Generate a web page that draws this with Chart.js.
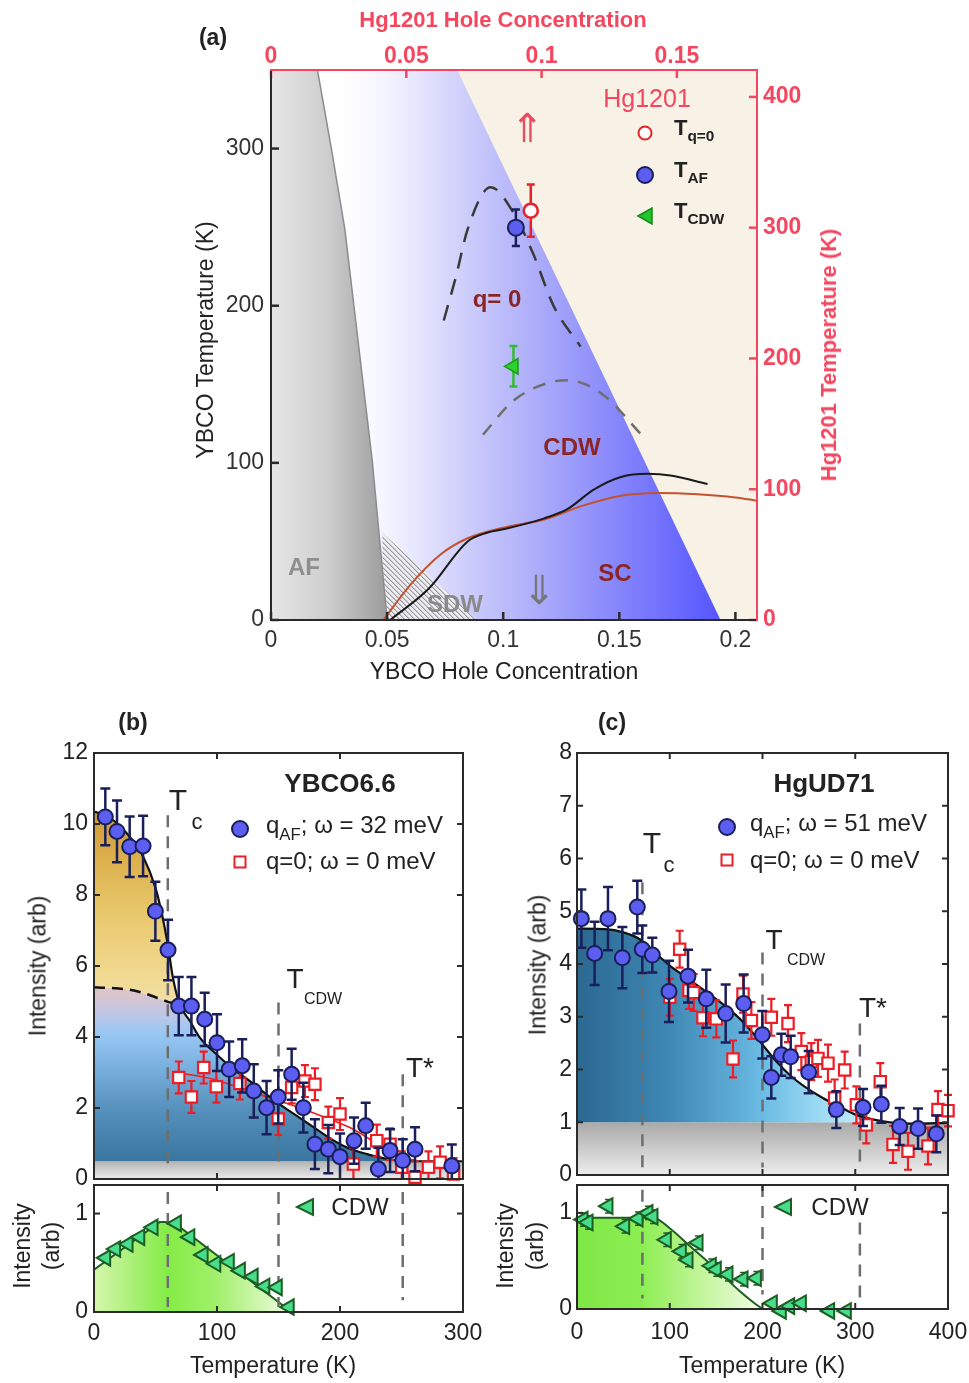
<!DOCTYPE html>
<html>
<head>
<meta charset="utf-8">
<title>Phase diagram and scattering intensities</title>
<script src="https://cdn.jsdelivr.net/npm/chart.js@4.4.1/dist/chart.umd.min.js"></script>
<style>
 html,body{margin:0;padding:0;background:#ffffff;}
 #page{position:relative;width:969px;height:1383px;overflow:hidden;font-family:"Liberation Sans",Arial,Helvetica,sans-serif;color:#222;}
 #page canvas{position:absolute;left:0;top:0;}
 .t{position:absolute;white-space:nowrap;line-height:1;transform:translate(-50%,-50%);}
 .l{position:absolute;white-space:nowrap;line-height:1;transform:translate(0,-50%);}
 .r{transform:translate(-50%,-50%) rotate(-90deg);}
 .b{font-weight:bold;}
 sub{font-size:0.7em;vertical-align:-0.4em;line-height:0;}
 .mk{position:absolute;transform:translate(-50%,-50%);}
</style>
</head>
<body>
<div id="page">
 <canvas id="cA" width="969" height="1383"></canvas>
 <canvas id="cB1" width="969" height="1383"></canvas>
 <canvas id="cB2" width="969" height="1383"></canvas>
 <canvas id="cC1" width="969" height="1383"></canvas>
 <canvas id="cC2" width="969" height="1383"></canvas>

 <!-- panel (a) text -->
 <div class="t b" style="left:213px;top:37px;font-size:23px;">(a)</div>
 <div class="t b" style="left:503px;top:20px;font-size:22px;color:#f4475f;">Hg1201 Hole Concentration</div>
 <div class="t" style="left:504px;top:671px;font-size:23px;">YBCO Hole Concentration</div>
 <div class="t r" style="left:205px;top:340px;font-size:23px;">YBCO Temperature (K)</div>
 <div class="t r b" style="left:829px;top:355px;font-size:22px;color:#f4475f;">Hg1201 Temperature (K)</div>
 <div class="t" style="left:647px;top:98px;font-size:25px;color:#f4475f;">Hg1201</div>
 <div class="mk" style="left:645px;top:133px;width:11px;height:11px;border:2.5px solid #e8202a;border-radius:50%;background:#fff;"></div>
 <div class="mk" style="left:645px;top:175px;width:14px;height:14px;border:2px solid #1a1f5a;border-radius:50%;background:#5b5ef0;"></div>
 <svg class="mk" style="left:645px;top:216px;" width="20" height="20" viewBox="0 0 20 20"><polygon points="3,10 17,2 17,18" fill="#22c52a" stroke="#138a1a" stroke-width="1.5"/></svg>
 <div class="l b" style="left:674px;top:128px;font-size:22px;">T<sub>q=0</sub></div>
 <div class="l b" style="left:674px;top:170px;font-size:22px;">T<sub>AF</sub></div>
 <div class="l b" style="left:674px;top:211px;font-size:22px;">T<sub>CDW</sub></div>
 <div class="t b" style="left:497px;top:299px;font-size:24px;color:#8b2525;">q= 0</div>
 <div class="t b" style="left:572px;top:447px;font-size:24px;color:#8b2525;">CDW</div>
 <div class="t b" style="left:615px;top:573px;font-size:24px;color:#8b2525;">SC</div>
 <div class="t b" style="left:304px;top:567px;font-size:24px;color:#8f8f8f;">AF</div>
 <div class="t b" style="left:455px;top:604px;font-size:24px;color:#8a8a8a;">SDW</div>
 <div class="t" style="left:527px;top:128px;font-size:40px;color:#f04a5e;font-family:'DejaVu Sans';">&#8657;</div>
 <div class="t" style="left:539px;top:590px;font-size:40px;color:#777;font-family:'DejaVu Sans';">&#8659;</div>

 <!-- panel (b) text -->
 <div class="t b" style="left:133px;top:722px;font-size:23px;">(b)</div>
 <div class="t b" style="left:340px;top:783px;font-size:26px;">YBCO6.6</div>
 <div class="mk" style="left:240px;top:829px;width:14px;height:14px;border:2px solid #1a1f5a;border-radius:50%;background:#5b5ef0;"></div>
 <div class="l" style="left:266px;top:825px;font-size:24px;">q<sub>AF</sub>; &omega; = 32 meV</div>
 <div class="mk" style="left:240px;top:862px;width:9px;height:9px;border:2.5px solid #e8202a;background:#fff;"></div>
 <div class="l" style="left:266px;top:861px;font-size:24px;">q=0; &omega; = 0 meV</div>
 <div class="t" style="left:178px;top:800px;font-size:30px;">T</div>
 <div class="t" style="left:197px;top:822px;font-size:22px;">c</div>
 <div class="t" style="left:295px;top:979px;font-size:28px;">T</div>
 <div class="t" style="left:323px;top:999px;font-size:16px;">CDW</div>
 <div class="t" style="left:420px;top:1068px;font-size:28px;">T*</div>
 <div class="t r" style="left:38px;top:966px;font-size:23px;">Intensity (arb)</div>
 <div class="t r" style="left:22px;top:1246px;font-size:23px;">Intensity</div>
 <div class="t r" style="left:51px;top:1246px;font-size:23px;">(arb)</div>
 <svg class="mk" style="left:305px;top:1207px;" width="22" height="22" viewBox="0 0 22 22"><polygon points="3,11 19,3 19,19" fill="#47dd8c" stroke="#1d5e22" stroke-width="2"/></svg>
 <div class="t" style="left:360px;top:1207px;font-size:24px;">CDW</div>
 <div class="t" style="left:273px;top:1365px;font-size:23px;">Temperature (K)</div>

 <!-- panel (c) text -->
 <div class="t b" style="left:612px;top:722px;font-size:23px;">(c)</div>
 <div class="t b" style="left:824px;top:783px;font-size:26px;">HgUD71</div>
 <div class="mk" style="left:727px;top:827px;width:14px;height:14px;border:2px solid #1a1f5a;border-radius:50%;background:#5b5ef0;"></div>
 <div class="l" style="left:750px;top:823px;font-size:24px;">q<sub>AF</sub>; &omega; = 51 meV</div>
 <div class="mk" style="left:727px;top:860px;width:9px;height:9px;border:2.5px solid #e8202a;background:#fff;"></div>
 <div class="l" style="left:750px;top:860px;font-size:24px;">q=0; &omega; = 0 meV</div>
 <div class="t" style="left:652px;top:843px;font-size:30px;">T</div>
 <div class="t" style="left:669px;top:865px;font-size:22px;">c</div>
 <div class="t" style="left:774px;top:940px;font-size:28px;">T</div>
 <div class="t" style="left:806px;top:960px;font-size:16px;">CDW</div>
 <div class="t" style="left:873px;top:1008px;font-size:28px;">T*</div>
 <div class="t r" style="left:538px;top:965px;font-size:23px;">Intensity (arb)</div>
 <div class="t r" style="left:505px;top:1246px;font-size:23px;">Intensity</div>
 <div class="t r" style="left:535px;top:1246px;font-size:23px;">(arb)</div>
 <svg class="mk" style="left:783px;top:1207px;" width="22" height="22" viewBox="0 0 22 22"><polygon points="3,11 19,3 19,19" fill="#47dd8c" stroke="#1d5e22" stroke-width="2"/></svg>
 <div class="t" style="left:840px;top:1207px;font-size:24px;">CDW</div>
 <div class="t" style="left:762px;top:1365px;font-size:23px;">Temperature (K)</div>
</div>

<script>
// ================= DATA =================
// ---- Panel (a): phase diagram ----
const aYbcoPTicks = [0, 0.05, 0.1, 0.15, 0.2];
const aHgPTicks = [0, 0.05, 0.1, 0.15];
const aYbcoTTicks = [0, 100, 200, 300];
const aHgTTicks = [0, 100, 200, 300, 400];
const scEdgeP = [0, 0.0802, 0.1936];
const scEdgeT = [350, 350, 0];
const afEdgeP = [0, 0.02, 0.026, 0.0318, 0.0373, 0.0437, 0.05];
const afEdgeT = [350, 350, 300, 248.7, 180, 100, 0];
const sdwEdgeP = [0.0479, 0.0888];
const sdwEdgeT = [55.6, 0];
const q0DomeP = [0.0744, 0.0797, 0.0847, 0.0946, 0.1045, 0.1127, 0.1218, 0.1333];
const q0DomeT = [190.6, 218.8, 248.7, 275.4, 259, 233.8, 199.6, 174];
const cdwDomeP = [0.0913, 0.1045, 0.1193, 0.1276, 0.1424, 0.1606];
const cdwDomeT = [118, 139.7, 150.9, 152.6, 144, 116.2];
const ybcoTcP = [0.0513, 0.068, 0.0847, 0.093, 0.1, 0.1177, 0.1276, 0.139, 0.1507, 0.162, 0.172, 0.188];
const ybcoTcT = [0, 20, 50, 55.5, 57.7, 64.7, 70.5, 83, 91, 93, 92, 86.5];
const hgTcP = [0.0484, 0.06, 0.073, 0.0847, 0.1, 0.1177, 0.134, 0.1507, 0.167, 0.1837, 0.2, 0.2093];
const hgTcT = [0, 22.4, 41.7, 52, 58.8, 64, 72.6, 79, 80.8, 80, 78, 75.9];
const hgQ0P = [0.096];  const hgQ0T = [313];  const hgQ0Err = [20];
const hgAfP = [0.0905]; const hgAfT = [300];  const hgAfErr = [14];
const hgCdwP = [0.0896]; const hgCdwT = [194]; const hgCdwErr = [15.5];

// ---- Panel (b): YBCO6.6 ----
const bTTicks = [0, 100, 200, 300];
const bITicks = [0, 2, 4, 6, 8, 10, 12];
const bLowITicks = [0, 1];
const bAfT = [9.2, 18.7, 29, 39.9, 49.9, 60.2, 68.9, 79.2, 90, 100, 109.9, 120.5, 129.9, 140.3, 149.8, 160.7, 170.2, 179.6, 190.5, 200, 211.4, 220.9, 231.2, 240.7, 251, 261, 290.9];
const bAfI = [10.2, 9.79, 9.36, 9.38, 7.54, 6.45, 4.87, 4.87, 4.5, 3.84, 3.09, 3.19, 2.48, 2.01, 2.31, 2.95, 2.01, 0.98, 0.84, 0.63, 1.08, 1.5, 0.28, 0.8, 0.52, 0.84, 0.37];
const bAfErr = [0.8, 0.87, 0.85, 0.85, 0.83, 0.85, 0.82, 0.82, 0.75, 0.8, 0.78, 0.75, 0.75, 0.75, 0.75, 0.72, 0.7, 0.7, 0.68, 0.65, 0.65, 0.65, 0.6, 0.6, 0.6, 0.62, 0.6];
const bQ0T = [68.9, 79.2, 89.2, 99.5, 118.6, 149.8, 160.7, 171.5, 179.6, 190.5, 200, 210.9, 229.9, 240.7, 250.2, 261, 271.9, 281.4, 292.3];
const bQ0I = [2.86, 2.31, 3.14, 2.6, 2.69, 1.69, 2.58, 2.76, 2.67, 1.59, 1.83, 0.42, 1.08, 0.98, 0.33, 0.05, 0.33, 0.47, 0.14];
const bQ0Err = [0.45, 0.45, 0.45, 0.45, 0.45, 0.45, 0.45, 0.45, 0.45, 0.45, 0.45, 0.45, 0.45, 0.45, 0.45, 0.45, 0.45, 0.45, 0.45];
const bFitT = [0, 9, 18.7, 29, 40, 50, 55, 60, 64, 69.5, 78, 86, 100, 113, 127, 140, 153, 167, 181, 195, 208, 222, 236, 249, 262, 280, 300];
const bFitI = [10.35, 10.25, 10.02, 9.64, 9.08, 8.2, 7.5, 6.6, 5.7, 4.93, 4.45, 3.98, 3.5, 3.1, 2.75, 2.39, 2.05, 1.73, 1.4, 1.08, 0.85, 0.7, 0.58, 0.52, 0.5, 0.5, 0.5];
const bDashT = [0, 9, 18.7, 29, 40, 50, 55, 60, 64, 69.5];
const bDashI = [5.4, 5.39, 5.37, 5.33, 5.24, 5.12, 5.06, 4.99, 4.96, 4.93];
const bQ0FitT = [67, 97, 129, 167, 195, 208, 222, 236, 249, 262];
const bQ0FitI = [3.0, 2.81, 2.44, 2.01, 1.64, 1.45, 1.17, 0.85, 0.62, 0.52];
const bBaseT = [0, 300];
const bBaseI = [0.5, 0.5];
const bMarkT = [60, 150, 251];
const bMarkTop = [10.25, 4.97, 2.95];
const bMarkBot = [0.33, 0.33, 0.33];
const bLowMarkTop = [1.22, 1.22, 1.22];
const bLowMarkBot = [0.05, 0.05, 0.12];
const bCdwT = [9.5, 17.6, 27.7, 37.2, 48, 67, 77.9, 88.7, 99, 110, 119, 129.4, 138.9, 149, 158.7];
const bCdwI = [0.55, 0.64, 0.69, 0.76, 0.86, 0.9, 0.76, 0.58, 0.49, 0.51, 0.42, 0.36, 0.26, 0.25, 0.05];
const bCdwFitT = [0, 53.5, 64.3, 160.7];
const bCdwFitI = [0.43, 0.915, 0.915, 0];

// ---- Panel (c): HgUD71 ----
const cTTicks = [0, 100, 200, 300, 400];
const cITicks = [0, 1, 2, 3, 4, 5, 6, 7, 8];
const cLowITicks = [0, 1];
const cAfT = [4.7, 19, 33.4, 48.9, 65, 70.4, 81.2, 99.2, 119.7, 139.4, 160.3, 179.7, 199.8, 209.5, 220.3, 230.4, 249.8, 279.6, 308.4, 328.1, 347.9, 367.7, 387.4];
const cAfI = [4.86, 4.2, 4.86, 4.12, 5.08, 4.28, 4.17, 3.48, 3.77, 3.34, 3.06, 3.25, 2.66, 1.85, 2.28, 2.24, 1.95, 1.24, 1.28, 1.34, 0.92, 0.88, 0.78];
const cAfErr = [0.55, 0.6, 0.6, 0.58, 0.5, 0.45, 0.33, 0.58, 0.5, 0.55, 0.55, 0.55, 0.45, 0.4, 0.4, 0.4, 0.4, 0.35, 0.35, 0.35, 0.35, 0.38, 0.35];
const cQ0T = [100, 110.7, 120.7, 125.8, 135.8, 150.2, 168.2, 179, 188, 209.5, 227.5, 241.9, 252.6, 259.8, 270.6, 277.8, 288.6, 301.2, 311.9, 327, 340.7, 356.9, 378.4, 389.2, 400];
const cQ0I = [3.37, 4.28, 3.5, 3.46, 2.98, 2.96, 2.2, 3.43, 2.93, 2.99, 2.87, 2.34, 2.15, 2.21, 2.12, 1.46, 1.99, 1.33, 0.95, 1.77, 0.58, 0.45, 0.55, 1.24, 1.22];
const cQ0Err = [0.35, 0.35, 0.35, 0.35, 0.35, 0.35, 0.35, 0.35, 0.35, 0.35, 0.35, 0.35, 0.35, 0.35, 0.35, 0.35, 0.35, 0.35, 0.35, 0.35, 0.35, 0.35, 0.35, 0.35, 0.3];
const cFitT = [0, 30, 50, 67.6, 85, 100, 120, 139.4, 160, 179, 200, 215, 229, 245, 265, 285, 301, 320, 337, 366, 400];
const cFitI = [4.67, 4.66, 4.6, 4.47, 4.2, 3.97, 3.72, 3.47, 3.2, 2.9, 2.47, 2.15, 1.9, 1.68, 1.46, 1.28, 1.14, 1.05, 1.0, 0.97, 0.99];
const cBaseT = [0, 400];
const cBaseI = [1, 1];
const cMarkT = [70.5, 200, 305];
const cMarkTop = [5.55, 4.22, 2.87];
const cMarkBot = [0.14, 0.14, 0.14];
const cLowMarkTop = [1.24, 1.29, 0.9];
const cLowMarkBot = [0.11, 0.15, 0.11];
const cCdwT = [6.5, 11.9, 33.4, 51.4, 65.8, 76.5, 81.9, 96.3, 112.5, 119.7, 130.5, 144.8, 150.2, 162.8, 179, 193.4, 210.6, 220.3, 229.3, 241.9, 272.4, 290.4];
const cCdwI = [0.93, 0.9, 1.07, 0.86, 0.94, 1.0, 0.96, 0.72, 0.6, 0.51, 0.69, 0.45, 0.41, 0.36, 0.31, 0.32, 0.06, -0.02, 0.03, 0.06, -0.02, -0.02];
const cCdwErr = [0.07, 0.07, 0.07, 0.07, 0.07, 0.07, 0.07, 0.07, 0.07, 0.07, 0.07, 0.07, 0.07, 0.07, 0.07, 0.07, 0.04, 0.04, 0.04, 0.04, 0.04, 0.04];
const cCdwFitT = [0, 40, 82, 100, 121, 140, 157, 175, 190, 200];
const cCdwFitI = [0.95, 0.95, 0.95, 0.84, 0.66, 0.5, 0.35, 0.19, 0.07, 0.0];

// ================= HELPERS =================
const RED = '#f4475f';
Chart.defaults.font.family = '"Liberation Sans", Arial, Helvetica, sans-serif';
Chart.defaults.animation = false;
Chart.defaults.responsive = false;
Chart.defaults.plugins.legend.display = false;
Chart.defaults.plugins.tooltip.enabled = false;
Chart.defaults.events = [];

function pts(xs, ys) { return xs.map((x, i) => ({x: x, y: ys[i]})); }

function axis(pos, min, max, tickVals, o) {
  o = o || {};
  const vertical = (pos === 'left' || pos === 'right');
  return {
    type: 'linear', position: pos, min: min, max: max,
    grid: {display: false, drawTicks: false, tickLength: 0}, border: {display: false},
    afterBuildTicks: s => { s.ticks = tickVals.map(v => ({value: v})); },
    afterFit: s => {
      if (vertical) { s.width = o.size; s.paddingTop = 0; s.paddingBottom = 0; }
      else { s.height = o.size; s.paddingLeft = 0; s.paddingRight = 0; }
    },
    ticks: {display: o.labels !== false, padding: o.pad || 0, color: o.color || '#222',
      font: {size: o.fs || 23, weight: o.bold ? 'bold' : 'normal'},
      callback: v => String(v), maxRotation: 0, minRotation: 0, autoSkip: false}
  };
}

function line(xs, ys, o) {
  return Object.assign({data: pts(xs, ys), pointRadius: 0, borderWidth: 2, fill: false, tension: 0, borderColor: '#222'}, o);
}
function marks(xs, ys, o) {
  return Object.assign({data: pts(xs, ys), showLine: false, pointRadius: 7.5, borderWidth: 2, clip: false}, o);
}

function hGrad(axisId, stops) {
  return c => {
    const ch = c.chart; if (!ch.chartArea) return 'rgba(0,0,0,0)';
    const sc = ch.scales[axisId];
    const p0 = sc.getPixelForValue(stops[0][0]), p1 = sc.getPixelForValue(stops[stops.length - 1][0]);
    const g = ch.ctx.createLinearGradient(p0, 0, p1, 0);
    stops.forEach(s => g.addColorStop(Math.min(1, Math.max(0, (sc.getPixelForValue(s[0]) - p0) / (p1 - p0))), s[1]));
    return g;
  };
}
function vGrad(axisId, stops) {
  return c => {
    const ch = c.chart; if (!ch.chartArea) return 'rgba(0,0,0,0)';
    const sc = ch.scales[axisId];
    const p0 = sc.getPixelForValue(stops[0][0]), p1 = sc.getPixelForValue(stops[stops.length - 1][0]);
    const g = ch.ctx.createLinearGradient(0, p0, 0, p1);
    stops.forEach(s => g.addColorStop(Math.min(1, Math.max(0, (sc.getPixelForValue(s[0]) - p0) / (p1 - p0))), s[1]));
    return g;
  };
}

function hatchPattern() {
  const c = document.createElement('canvas'); c.width = 5; c.height = 5;
  const x = c.getContext('2d');
  x.fillStyle = '#ececf2'; x.fillRect(0, 0, 5, 5);
  for (let i = 0; i < 5; i++) {
    x.fillStyle = '#9a9a9e'; x.fillRect(i, i, 1, 1);
    x.fillStyle = '#c8c8cc'; x.fillRect((i + 1) % 5, i, 1, 1);
  }
  return x.createPattern(c, 'repeat');
}

// frame + inward ticks
const framePlugin = {
  id: 'frame',
  beforeDatasetsDraw(chart, args, o) {
    if (!o.bg) return;
    const a = chart.chartArea, ctx = chart.ctx;
    ctx.save(); ctx.fillStyle = o.bg; ctx.fillRect(a.left, a.top, a.right - a.left, a.bottom - a.top); ctx.restore();
  },
  afterDatasetsDraw(chart, args, o) {
    const ctx = chart.ctx, a = chart.chartArea;
    ctx.save();
    ctx.lineCap = 'butt';
    (o.ticks || []).forEach(t => {
      const sc = chart.scales[t.scale];
      ctx.strokeStyle = t.color; ctx.lineWidth = t.width;
      sc.ticks.forEach(tk => {
        const p = sc.getPixelForValue(tk.value);
        ctx.beginPath();
        if (t.side === 'bottom') { ctx.moveTo(p, a.bottom); ctx.lineTo(p, a.bottom - t.len); }
        else if (t.side === 'top') { ctx.moveTo(p, a.top); ctx.lineTo(p, a.top + t.len); }
        else if (t.side === 'left') { ctx.moveTo(a.left, p); ctx.lineTo(a.left + t.len, p); }
        else { ctx.moveTo(a.right, p); ctx.lineTo(a.right - t.len, p); }
        ctx.stroke();
      });
    });
    ctx.lineCap = 'square';
    (o.sides || []).forEach(s => {
      ctx.strokeStyle = s.color; ctx.lineWidth = s.width;
      ctx.beginPath();
      if (s.side === 'left') { ctx.moveTo(a.left, a.top); ctx.lineTo(a.left, a.bottom); }
      else if (s.side === 'right') { ctx.moveTo(a.right, a.top); ctx.lineTo(a.right, a.bottom); }
      else if (s.side === 'top') { ctx.moveTo(a.left, a.top); ctx.lineTo(a.right, a.top); }
      else { ctx.moveTo(a.left, a.bottom); ctx.lineTo(a.right, a.bottom); }
      ctx.stroke();
    });
    ctx.restore();
  }
};

// vertical error bars, drawn just under their markers
const errPlugin = {
  id: 'errbars',
  beforeDatasetDraw(chart, args) {
    const ds = chart.data.datasets[args.index];
    if (!ds.errY) return;
    const meta = args.meta;
    const xs = chart.scales[meta.xAxisID], ys = chart.scales[meta.yAxisID];
    const ctx = chart.ctx, a = chart.chartArea;
    ctx.save();
    ctx.beginPath(); ctx.rect(a.left - 20, a.top, a.right - a.left + 40, a.bottom - a.top); ctx.clip();
    ctx.strokeStyle = ds.errColor; ctx.lineWidth = ds.errWidth || 2;
    const c = ds.capW || 4;
    ds.data.forEach((d, i) => {
      const px = xs.getPixelForValue(d.x);
      const y1 = ys.getPixelForValue(d.y + ds.errY[i]), y2 = ys.getPixelForValue(d.y - ds.errY[i]);
      ctx.beginPath();
      ctx.moveTo(px, y1); ctx.lineTo(px, y2);
      ctx.moveTo(px - c, y1); ctx.lineTo(px + c, y1);
      ctx.moveTo(px - c, y2); ctx.lineTo(px + c, y2);
      ctx.stroke();
    });
    ctx.restore();
  }
};
Chart.register(framePlugin, errPlugin);

const DARK = '#2a2a2a';
const boxFrame = (xId, yId) => ({
  sides: ['left', 'right', 'top', 'bottom'].map(s => ({side: s, color: DARK, width: 2})),
  ticks: [
    {scale: xId, side: 'bottom', len: 6, color: DARK, width: 2},
    {scale: xId, side: 'top', len: 6, color: DARK, width: 2},
    {scale: yId, side: 'left', len: 6, color: DARK, width: 2},
    {scale: yId, side: 'right', len: 6, color: DARK, width: 2}
  ]
});
const blueMarks = (xs, ys, es) => marks(xs, ys, {backgroundColor: '#5b5ef0', borderColor: '#1a1f5a', pointRadius: 7.5, errY: es, errColor: '#1a1f5a', errWidth: 2.5, capW: 5, order: 1});
const redMarks = (xs, ys, es) => marks(xs, ys, {pointStyle: 'rect', backgroundColor: '#ffffff', borderColor: '#ee1c24', pointRadius: 8, borderWidth: 2.2, errY: es, errColor: '#ee1c24', errWidth: 2.2, capW: 4, order: 2});
const triMarks = (xs, ys, es) => marks(xs, ys, {pointStyle: 'triangle', rotation: 270, backgroundColor: '#47dd8c', borderColor: '#1d5e22', pointRadius: 9, borderWidth: 2, errY: es, errColor: '#1d5e22', errWidth: 1.5, capW: 3, order: 1});
const vDash = (ts, tops, bots) => ts.map((t, i) => line([t, t], [tops[i], bots[i]], {borderColor: '#6e6e6e', borderWidth: 2.5, borderDash: [12, 9], order: 6}));

// ================= PANEL (a) =================
new Chart(document.getElementById('cA'), {
  type: 'line',
  data: {datasets: [
    line(scEdgeP, scEdgeT, {fill: 'start', borderWidth: 0, order: 20,
      backgroundColor: hGrad('x', [[0.03, '#ffffff'], [0.05, '#f4f4ff'], [0.08, '#d2d2fc'], [0.12, '#a6a6fa'], [0.16, '#7a7afc'], [0.195, '#5454ff']])}),
    line(sdwEdgeP, sdwEdgeT, {fill: 'start', borderWidth: 0, order: 19, backgroundColor: hatchPattern()}),
    line(afEdgeP, afEdgeT, {fill: 'start', borderWidth: 1.5, borderColor: '#8c8c8c', order: 18,
      backgroundColor: hGrad('x', [[0, '#e6e6e6'], [0.025, '#cdcdcd'], [0.05, '#9c9c9c']])}),
    line(cdwDomeP, cdwDomeT, {borderColor: '#6f6f6f', borderWidth: 2.5, borderDash: [13, 10], cubicInterpolationMode: 'monotone', order: 10}),
    line(q0DomeP, q0DomeT, {borderColor: '#3a3a3a', borderWidth: 2.5, borderDash: [16, 11], cubicInterpolationMode: 'monotone', order: 9}),
    line(hgTcP, hgTcT, {borderColor: '#c2532e', borderWidth: 2, cubicInterpolationMode: 'monotone', order: 8}),
    line(ybcoTcP, ybcoTcT, {borderColor: '#1a1a1a', borderWidth: 2, cubicInterpolationMode: 'monotone', order: 7}),
    marks(hgCdwP, hgCdwT, {xAxisID: 'x2', yAxisID: 'y2', pointStyle: 'triangle', rotation: 270, pointRadius: 9, backgroundColor: '#2ad22a', borderColor: '#1c9a1c', borderWidth: 1.5, errY: hgCdwErr, errColor: '#33bb33', errWidth: 2.5, capW: 0, order: 3}),
    marks(hgAfP, hgAfT, {xAxisID: 'x2', yAxisID: 'y2', pointRadius: 8, backgroundColor: '#5b5ef0', borderColor: '#1a1f5a', errY: hgAfErr, errColor: '#1a1f5a', errWidth: 2.5, capW: 4, order: 2}),
    marks(hgQ0P, hgQ0T, {xAxisID: 'x2', yAxisID: 'y2', pointRadius: 7, backgroundColor: '#ffffff', borderColor: '#e8202a', borderWidth: 2.5, errY: hgQ0Err, errColor: '#e8202a', errWidth: 2.5, capW: 4, order: 1})
  ]},
  options: {
    layout: {padding: {left: 211, right: 152, top: 20, bottom: 713}},
    scales: {
      x: axis('bottom', 0, 0.2093, aYbcoPTicks, {size: 50, pad: 7, color: '#333'}),
      x2: axis('top', 0, 0.1796, aHgPTicks, {size: 50, pad: 0, color: RED, bold: true}),
      y: axis('left', 0, 350, aYbcoTTicks, {size: 60, pad: 7, color: '#333'}),
      y2: axis('right', 0, 420.6, aHgTTicks, {size: 60, pad: 6, color: RED, bold: true})
    },
    plugins: {
      frame: {
        bg: '#f7f1e6',
        sides: [{side: 'left', color: '#2a2a2a', width: 2}, {side: 'bottom', color: '#2a2a2a', width: 2},
                {side: 'top', color: RED, width: 2}, {side: 'right', color: RED, width: 2}],
        ticks: [{scale: 'x', side: 'bottom', len: 8, color: '#2a2a2a', width: 2.5},
                {scale: 'y', side: 'left', len: 8, color: '#2a2a2a', width: 2.5},
                {scale: 'x2', side: 'top', len: 8, color: RED, width: 2.5},
                {scale: 'y2', side: 'right', len: 8, color: RED, width: 2.5}]
      }
    }
  }
});

// ================= PANEL (b) main =================
const bUpperI = bDashI.concat(bFitI.slice(bDashT.length));
const bGoldI = bFitI.slice(0, bDashT.length);
new Chart(document.getElementById('cB1'), {
  type: 'line',
  data: {datasets: [
    line(bBaseT, bBaseI, {fill: 'start', borderWidth: 0, order: 30, backgroundColor: vGrad('y', [[0.5, '#b4b4b4'], [0, '#ececec']])}),
    line(bFitT, bUpperI, {fill: {target: 0}, borderWidth: 0, cubicInterpolationMode: 'monotone', order: 29,
      backgroundColor: vGrad('y', [[5.4, '#e4c4c2'], [4.7, '#c2c6e4'], [4.1, '#98c8f4'], [3.0, '#74acda'], [2.0, '#5791bd'], [1.0, '#437fa9'], [0.5, '#3b76a0']])}),
    line(bDashT, bDashI, {borderColor: '#111', borderWidth: 2.5, borderDash: [11, 7], cubicInterpolationMode: 'monotone', order: 5}),
    line(bDashT, bGoldI, {fill: {target: 2}, borderWidth: 0, cubicInterpolationMode: 'monotone', order: 28,
      backgroundColor: vGrad('y', [[10.4, '#cf9934'], [9, '#dcb04d'], [7.5, '#e8c86b'], [6, '#f0d78b'], [4.9, '#f3e0a8']])}),
    line(bFitT, bFitI, {borderColor: '#111', borderWidth: 2.2, cubicInterpolationMode: 'monotone', order: 4}),
    line(bQ0FitT, bQ0FitI, {borderColor: '#ee1c24', borderWidth: 1.6, cubicInterpolationMode: 'monotone', order: 5}),
    ...vDash(bMarkT, bMarkTop, bMarkBot),
    redMarks(bQ0T, bQ0I, bQ0Err),
    blueMarks(bAfT, bAfI, bAfErr)
  ]},
  options: {
    layout: {padding: {left: 44, right: 506, top: 753, bottom: 204}},
    scales: {
      x: axis('bottom', 0, 300, bTTicks, {size: 0, labels: false}),
      y: axis('left', 0, 12, bITicks, {size: 50, pad: 6})
    },
    plugins: {frame: boxFrame('x', 'y')}
  }
});

// ================= PANEL (b) lower =================
new Chart(document.getElementById('cB2'), {
  type: 'line',
  data: {datasets: [
    line(bCdwFitT, bCdwFitI, {fill: 'start', borderColor: '#1d5e22', borderWidth: 2, order: 10,
      backgroundColor: hGrad('x', [[0, '#d6f7ae'], [30, '#acf079'], [60, '#84ec46'], [100, '#a2f06c'], [160, '#f0fbe2']])}),
    ...vDash(bMarkT, bLowMarkTop, bLowMarkBot),
    triMarks(bCdwT, bCdwI, null)
  ]},
  options: {
    layout: {padding: {left: 44, right: 506, top: 1185, bottom: 21}},
    scales: {
      x: axis('bottom', 0, 300, bTTicks, {size: 50, pad: 8}),
      y: axis('left', 0, 1.29, bLowITicks, {size: 50, pad: 6})
    },
    plugins: {frame: boxFrame('x', 'y')}
  }
});

// ================= PANEL (c) main =================
const cRegionI = cFitI.map(v => Math.max(v, cBaseI[0]));
new Chart(document.getElementById('cC1'), {
  type: 'line',
  data: {datasets: [
    line(cBaseT, cBaseI, {fill: 'start', borderWidth: 0, order: 30, backgroundColor: vGrad('y', [[1, '#a9a9a9'], [0, '#ededed']])}),
    line(cFitT, cRegionI, {fill: {target: 0}, borderWidth: 0, cubicInterpolationMode: 'monotone', order: 29,
      backgroundColor: hGrad('x', [[0, '#2b6890'], [100, '#3f88b5'], [200, '#6bbbe3'], [280, '#aae3f8'], [320, '#c8f1ff']])}),
    line(cFitT, cFitI, {borderColor: '#111', borderWidth: 2.2, cubicInterpolationMode: 'monotone', order: 4}),
    ...vDash(cMarkT, cMarkTop, cMarkBot),
    redMarks(cQ0T, cQ0I, cQ0Err),
    blueMarks(cAfT, cAfI, cAfErr)
  ]},
  options: {
    layout: {padding: {left: 527, right: 21, top: 753, bottom: 208}},
    scales: {
      x: axis('bottom', 0, 400, cTTicks, {size: 0, labels: false}),
      y: axis('left', 0, 8, cITicks, {size: 50, pad: 5})
    },
    plugins: {frame: boxFrame('x', 'y')}
  }
});

// ================= PANEL (c) lower =================
new Chart(document.getElementById('cC2'), {
  type: 'line',
  data: {datasets: [
    line(cCdwFitT, cCdwFitI, {fill: 'start', borderColor: '#1d5e22', borderWidth: 2, cubicInterpolationMode: 'monotone', order: 10,
      backgroundColor: hGrad('x', [[0, '#7ee846'], [70, '#8cee52'], [130, '#bff596'], [200, '#f2fce8']])}),
    ...vDash(cMarkT, cLowMarkTop, cLowMarkBot),
    triMarks(cCdwT, cCdwI, cCdwErr)
  ]},
  options: {
    layout: {padding: {left: 527, right: 21, top: 1185, bottom: 24}},
    scales: {
      x: axis('bottom', 0, 400, cTTicks, {size: 50, pad: 10}),
      y: axis('left', 0, 1.29, cLowITicks, {size: 50, pad: 5})
    },
    plugins: {frame: boxFrame('x', 'y')}
  }
});
</script>
</body>
</html>
